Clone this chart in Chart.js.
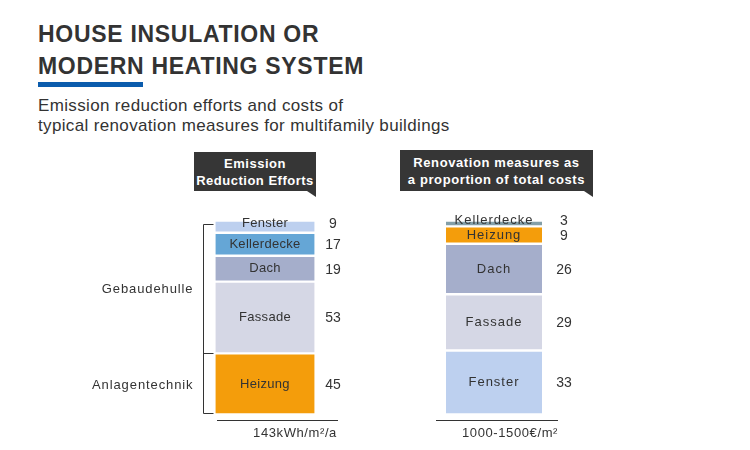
<!DOCTYPE html>
<html>
<head>
<meta charset="utf-8">
<script src="https://cdn.jsdelivr.net/npm/chart.js@4"></script>
<style>
  body { margin: 0; background: #fff; font-family: "Liberation Sans", Arial, sans-serif; color: #333; }
  #wrap { position: relative; width: 750px; height: 450px; }
  canvas { position: absolute; left: 0; top: 0; }
  h1 { position: absolute; left: 38px; top: 18px; margin: 0; font-size: 23px; line-height: 32px; letter-spacing: 0.7px; font-weight: bold; color: #333; }
  .bar { position: absolute; left: 38px; top: 82px; width: 105px; height: 5px; background: #0b5cad; }
  .sub { position: absolute; left: 38px; top: 96px; margin: 0; font-size: 17px; line-height: 20px; letter-spacing: 0.35px; color: #333; }
  .tag { position: absolute; background: #363636; color: #fff; font-weight: bold; font-size: 13px; line-height: 17px; letter-spacing: 0.5px;
         display: flex; align-items: center; justify-content: center; text-align: center; }
  .tag:after { content: ""; position: absolute; right: 0; bottom: -6px; width: 0; height: 0; border-top: 6px solid #363636; border-left: 9px solid transparent; }
</style>
</head>
<body>
<div id="wrap">
  <h1>HOUSE INSULATION OR<br>MODERN HEATING SYSTEM</h1>
  <div class="bar"></div>
  <p class="sub">Emission reduction efforts and costs of<br>typical renovation measures for multifamily buildings</p>
  <canvas id="c" width="750" height="450"></canvas>
  <div class="tag" style="left:194px;top:152px;width:122px;height:39px;">Emission<br>Reduction Efforts</div>
  <div class="tag" style="left:400px;top:150px;width:193px;height:41px;letter-spacing:0.6px;">Renovation measures as<br>a proportion of total costs</div>
</div>
<script>
// left bar: emission reduction efforts (bottom to top)
const leftLabels = ['Heizung', 'Fassade', 'Dach', 'Kellerdecke', 'Fenster'];
const leftValues = [45, 53, 19, 17, 9];
const leftGroups = ['Anlagentechnik', 'Gebaudehulle', 'Gebaudehulle', 'Gebaudehulle', 'Gebaudehulle'];

// right bar: share of total costs (bottom to top)
const rightLabels = ['Fenster', 'Fassade', 'Dach', 'Heizung', 'Kellerdecke'];
const rightValues = [33, 29, 26, 9, 3];

const barUnits = ['143kWh/m²/a', '1000-1500€/m²'];

const colors = {
  Fenster: '#bdd0ef',
  Kellerdecke: '#65a6d6',
  Dach: '#a5aecb',
  Fassade: '#d5d7e5',
  Heizung: '#f49d0b'
};
const rightKellerColor = '#839fa8';

const sum = a => a.reduce((s, v) => s + v, 0);
const segBorder = { top: 1.5, bottom: 1.5, left: 0, right: 0 };

const datasets = [];
leftLabels.forEach((name, i) => {
  datasets.push({
    label: name, side: 0, data: [leftValues[i], null], yAxisID: 'yL',
    backgroundColor: colors[name], borderColor: '#fff', borderWidth: segBorder,
    borderSkipped: false, barThickness: 99
  });
});
rightLabels.forEach((name, i) => {
  datasets.push({
    label: name, side: 1, data: [null, rightValues[i]], yAxisID: 'yR',
    backgroundColor: name === 'Kellerdecke' ? rightKellerColor : colors[name],
    borderColor: '#fff', borderWidth: segBorder, borderSkipped: false, barThickness: 96
  });
});

const FONT = '"Liberation Sans", Arial, sans-serif';

const decor = {
  id: 'decor',
  afterDatasetsDraw(chart) {
    const ctx = chart.ctx;
    ctx.save();
    ctx.fillStyle = '#333';
    ctx.textBaseline = 'middle';
    const bars = [[], []];
    chart.data.datasets.forEach((ds, di) => {
      const side = ds.side;
      const el = chart.getDatasetMeta(di).data[side];
      bars[side].push({ el, ds, value: ds.data[side] });
    });

    bars.forEach((list, side) => {
      list.forEach(({ el, ds, value }) => {
        const top = el.y, bottom = el.base;
        let cy = (top + bottom) / 2;
        if (bottom - top < 14) cy -= 3;
        ctx.letterSpacing = side ? '1px' : '0.3px';
        ctx.font = '13px ' + FONT;
        ctx.textAlign = 'center';
        ctx.fillText(ds.label, el.x, cy);
        ctx.font = '14px ' + FONT;
        ctx.letterSpacing = '0px';
        ctx.fillText(String(value), el.x + (side ? 70 : 68), cy + 1);
      });
      // base line + unit label
      const first = list[0].el;
      const x0 = side ? first.x - 58 : first.x - 48;
      const x1 = side ? first.x + 64 : first.x + 73;
      const yb = Math.round(first.base + 5);
      ctx.strokeStyle = '#333';
      ctx.lineWidth = 1;
      ctx.beginPath();
      ctx.moveTo(x0, yb + 0.5);
      ctx.lineTo(x1, yb + 0.5);
      ctx.stroke();
      ctx.font = '13px ' + FONT;
      ctx.letterSpacing = '0.6px';
      ctx.textAlign = 'center';
      ctx.fillText(barUnits[side], side ? first.x + 16 : first.x + 30, yb + 13);
    });

    // bracket with group labels on the left bar
    const left = bars[0];
    const bx = Math.round(left[0].el.x - 62) + 0.5;
    const groups = [];
    left.forEach(({ el }, i) => {
      const g = leftGroups[i];
      let cur = groups.find(o => o.name === g);
      if (!cur) { cur = { name: g, top: el.y, bottom: el.base }; groups.push(cur); }
      cur.top = Math.min(cur.top, el.y);
      cur.bottom = Math.max(cur.bottom, el.base);
    });
    ctx.strokeStyle = '#333';
    ctx.beginPath();
    const ys = [];
    groups.forEach(g => { ys.push(g.top, g.bottom); });
    const yTop = Math.min(...ys) + 3, yBot = Math.max(...ys) - 1.5;
    ctx.moveTo(bx + 10, Math.round(yTop) + 0.5);
    ctx.lineTo(bx, Math.round(yTop) + 0.5);
    ctx.lineTo(bx, Math.round(yBot) + 0.5);
    ctx.lineTo(bx + 10, Math.round(yBot) + 0.5);
    groups.forEach(g => {
      if (g.bottom < yBot - 1) {
        ctx.moveTo(bx, Math.round(g.bottom) + 0.5);
        ctx.lineTo(bx + 10, Math.round(g.bottom) + 0.5);
      }
    });
    ctx.stroke();
    ctx.font = '13px ' + FONT;
    ctx.letterSpacing = '0.9px';
    ctx.textAlign = 'right';
    groups.forEach(g => {
      const t = Math.max(g.top, yTop);
      ctx.fillText(g.name, bx - 10, (t + g.bottom) / 2 + 1);
    });
    ctx.restore();
  }
};

new Chart(document.getElementById('c'), {
  type: 'bar',
  data: { labels: ['L', 'R'], datasets },
  options: {
    responsive: false,
    animation: false,
    layout: { padding: { left: 150.5, right: 141.5, top: 220.5, bottom: 35.5 } },
    plugins: { legend: { display: false }, tooltip: { enabled: false } },
    scales: {
      x: { stacked: true, display: false },
      yL: { stacked: true, display: false, min: 0, max: sum(leftValues) },
      yR: { stacked: true, display: false, min: 0, max: sum(rightValues) }
    }
  },
  plugins: [decor]
});
</script>
</body>
</html>
